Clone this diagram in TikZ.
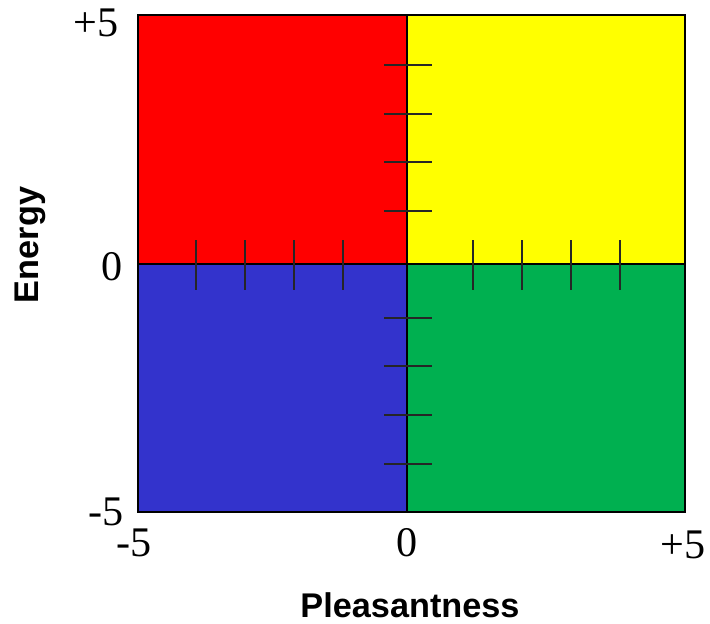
\documentclass[tikz,border=0pt]{standalone}
\usepackage{fontspec}
\setmainfont{Liberation Serif}
\setsansfont{Liberation Sans}
\definecolor{quadred}{HTML}{FF0000}
\definecolor{quadyellow}{HTML}{FFFF00}
\definecolor{quadblue}{HTML}{3333CC}
\definecolor{quadgreen}{HTML}{00B050}
\tikzset{
  quad/.style={draw=black, line width=1.2pt},
  tick/.style={line width=0.6pt, black!85},
  num/.style={font=\fontsize{24}{24}\selectfont, inner sep=0pt},
  axistitle/.style={font=\sffamily\bfseries\fontsize{19.5}{19.5}\selectfont, inner sep=0pt}
}
\begin{document}
\begin{tikzpicture}[x=0.02cm, y=-0.02cm]
    \useasboundingbox (0,0) rectangle (710,623);
    % Quadrants
    \filldraw[quad, fill=quadred] (138,15) rectangle (407,264);
    \filldraw[quad, fill=quadyellow] (407,15) rectangle (685,264);
    \filldraw[quad, fill=quadblue] (138,264) rectangle (407,512);
    \filldraw[quad, fill=quadgreen] (407,264) rectangle (685,512);

    % Ticks
    \foreach \x in {196,245,294,343,473,522,571,620}
        \draw[tick] (\x,240) -- (\x,290);
    \foreach \y in {65,114,162,211,318,366,415,464}
        \draw[tick] (384,\y) -- (432,\y);

    % Scale labels
    \node[num, anchor=east] (ytop) at (119,23) {+5};
    \node[num, anchor=east] (ymid) at (123,267) {0};
    \node[num, anchor=east] (ybot) at (124,512) {-5};
    \node[num] (xleft) at (134,543) {-5};
    \node[num] (xmid) at (407,543) {0};
    \node[num] (xright) at (683,545) {+5};

    % Axis titles
    \node[axistitle, rotate=90] (energy) at (30,245) {Energy};
    \node[axistitle] (pleasant) at (410,605) {Pleasantness};
\end{tikzpicture}
\end{document}
